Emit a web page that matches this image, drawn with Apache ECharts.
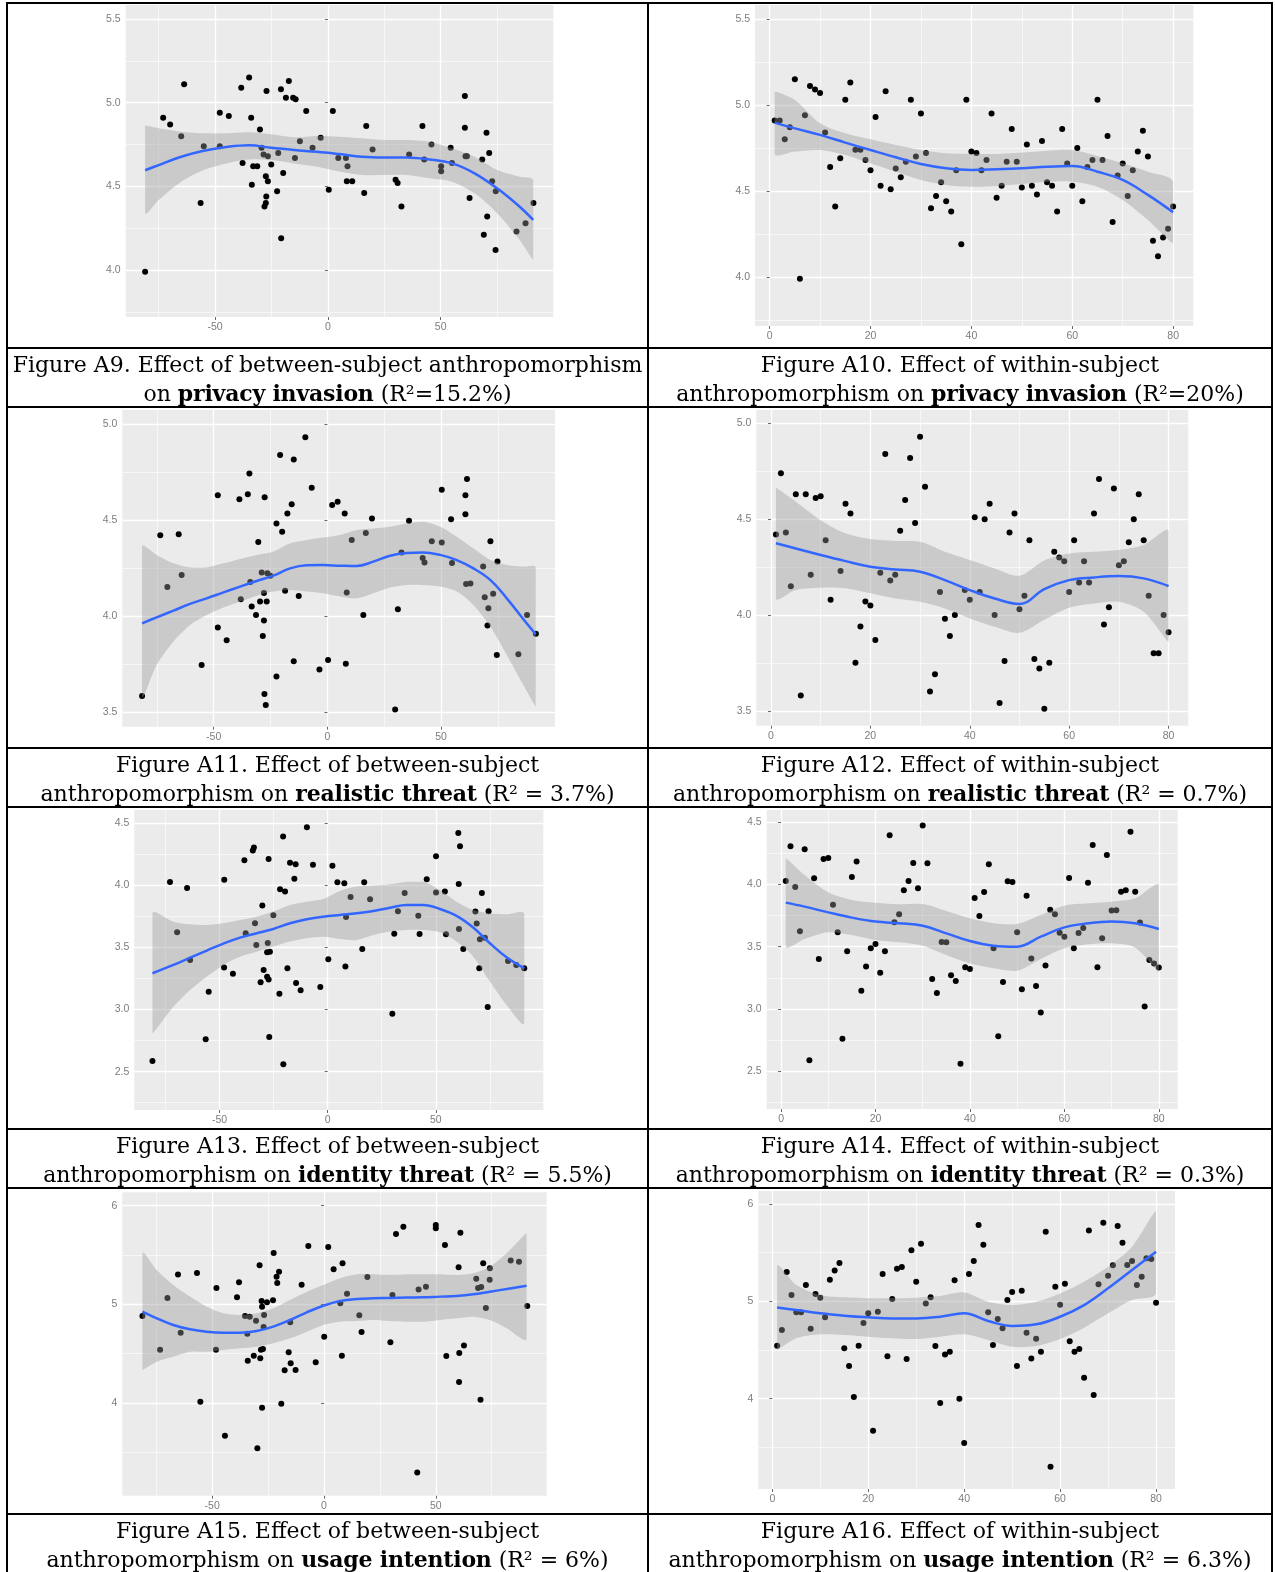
<!DOCTYPE html>
<html>
<head>
<meta charset="utf-8">
<script src="https://cdn.jsdelivr.net/npm/echarts@6/dist/echarts.min.js"></script>
<style>
body { margin: 0; background: #fff; }
#chart { position: absolute; left: 0; top: 0; width: 1275px; height: 1572px; }
.hl { position: absolute; left: 6px; width: 1267px; height: 2px; background: #000; }
.vl { position: absolute; top: 2px; width: 2px; height: 1570px; background: #000; }
.cap { position: absolute; text-align: center; font-family: "DejaVu Serif", serif; font-size: 22px;
       line-height: 28px; color: #000; white-space: nowrap; }
.cap b { letter-spacing: -0.2px; }
</style>
</head>
<body>
<div id="chart"></div>
<div id="frame"></div>
<script>
// tick values
const betweenTicks = [-50, 0, 50];
const betweenMinor = [-75, -25, 25, 75];
const withinTicks = [0, 20, 40, 60, 80];
const withinMinor = [10, 30, 50, 70];
const privacyTicks = [4, 4.5, 5, 5.5];
const privacyMinor = [3.75, 4.25, 4.75, 5.25];
const realisticTicks = [3.5, 4, 4.5, 5];
const realisticMinor = [3.75, 4.25, 4.75];
const identityTicks = [2.5, 3, 3.5, 4, 4.5];
const identityMinor = [2.25, 2.75, 3.25, 3.75, 4.25];
const usageTicks = [4, 5, 6];
const usageMinor = [3.5, 4.5, 5.5];

// points [x, y]; fits [x, fit, lower, upper]
const a9Points = [[-81,3.99],[-73,4.91],[-69.9,4.87],[-65,4.80],[-63.7,5.11],[-56.4,4.40],[-55,4.74],[-47.9,4.94],[-47.9,4.74],[-43.9,4.92],[-38.4,5.09],[-37.8,4.64],[-34.9,5.15],[-34,4.91],[-33.7,4.51],[-33.1,4.62],[-31.3,4.62],[-30.1,4.84],[-29.4,4.73],[-28.5,4.69],[-27.5,4.56],[-27.2,5.07],[-27.3,4.44],[-27.5,4.40],[-28.1,4.38],[-26.6,4.68],[-26.6,4.53],[-25.1,4.63],[-22.5,4.47],[-22,4.70],[-20.8,5.08],[-20.7,4.19],[-19.8,4.58],[-18.6,5.03],[-17.3,5.13],[-15.4,5.03],[-14.3,5.02],[-14.6,4.67],[-12.4,4.77],[-9.6,4.95],[-6.8,4.73],[-3.2,4.79],[0.4,4.48],[2.2,4.95],[4.6,4.67],[8,4.67],[8.4,4.53],[8.7,4.62],[10.8,4.53],[16.1,4.46],[17,4.86],[19.8,4.72],[30,4.54],[30.9,4.52],[32.6,4.38],[36,4.69],[41.9,4.86],[42.7,4.66],[45.9,4.75],[50.2,4.59],[50.2,4.62],[54.4,4.73],[55,4.64],[60.7,5.04],[60.7,4.85],[61,4.68],[61.6,4.68],[62.8,4.43],[68.4,4.66],[69.1,4.21],[70.3,4.82],[70.6,4.32],[71.5,4.70],[72.8,4.53],[74.4,4.47],[74.3,4.12],[83.6,4.23],[87.6,4.28],[91.1,4.40]];
const a9Fit = [[-81,4.596,4.339,4.863],[-75,4.627,4.418,4.847],[-65,4.677,4.528,4.827],[-55,4.713,4.598,4.817],[-45,4.735,4.637,4.817],[-35,4.745,4.661,4.823],[-25,4.731,4.657,4.811],[-15,4.717,4.637,4.793],[-5,4.707,4.618,4.801],[5,4.693,4.588,4.797],[15,4.677,4.568,4.787],[25,4.673,4.568,4.777],[35,4.673,4.568,4.777],[45,4.661,4.548,4.767],[55,4.637,4.528,4.727],[65,4.578,4.458,4.677],[75,4.488,4.339,4.598],[85,4.378,4.179,4.558],[91,4.299,4.060,4.538]];

const a10Points = [[1,4.91],[2,4.91],[3,4.80],[4,4.87],[5,5.15],[6,3.99],[7,4.94],[8,5.11],[9,5.09],[10,5.07],[11,4.84],[12,4.64],[13,4.41],[14,4.69],[15,5.03],[16,5.13],[17,4.74],[18,4.74],[19,4.68],[20,4.62],[21,4.93],[22,4.53],[23,5.08],[24,4.51],[25,4.63],[26,4.58],[27,4.67],[28,5.03],[29,4.70],[30,4.95],[31,4.72],[32,4.40],[33,4.47],[34,4.55],[35,4.44],[36,4.38],[37,4.62],[38,4.19],[39,5.03],[40,4.73],[41,4.72],[42,4.62],[43,4.68],[44,4.95],[45,4.46],[46,4.53],[47,4.67],[48,4.86],[49,4.67],[50,4.52],[51,4.77],[52,4.53],[53,4.48],[54,4.79],[55,4.55],[56,4.53],[57,4.38],[58,4.86],[59,4.66],[60,4.53],[61,4.75],[62,4.44],[63,4.64],[64,4.68],[65,5.03],[66,4.68],[67,4.82],[68,4.32],[69,4.59],[70,4.66],[71,4.47],[72,4.62],[73,4.73],[74,4.85],[75,4.70],[76,4.21],[77,4.12],[78,4.23],[79,4.28],[80,4.41]];
const a10Fit = [[1,4.897,4.715,5.078],[5,4.864,4.729,5.029],[10,4.826,4.738,4.893],[15,4.781,4.709,4.835],[20,4.738,4.661,4.80],[25,4.696,4.612,4.767],[30,4.657,4.564,4.738],[35,4.632,4.535,4.719],[40,4.622,4.525,4.715],[45,4.626,4.529,4.715],[50,4.632,4.541,4.723],[55,4.641,4.554,4.734],[60,4.645,4.554,4.738],[65,4.612,4.525,4.703],[70,4.564,4.448,4.661],[75,4.477,4.331,4.612],[80,4.376,4.196,4.554]];

const a11Points = [[-81.5,3.585],[-73.5,4.421],[-70.4,4.152],[-65.4,4.426],[-64.1,4.214],[-55.3,3.746],[-48.2,4.629],[-48.2,3.941],[-44.3,3.875],[-38.7,4.608],[-38.1,4.088],[-35,4.634],[-34.3,4.742],[-33.9,4.178],[-33.3,4.05],[-31.4,4.006],[-30.4,4.386],[-29.6,4.076],[-28.9,4.228],[-28.4,3.897],[-27.9,3.977],[-27.9,4.121],[-27.6,4.619],[-27.7,3.595],[-27.1,3.538],[-26.7,4.076],[-26.4,4.223],[-25.1,4.211],[-22.4,4.483],[-22.4,3.686],[-20.8,4.839],[-19.9,4.44],[-18.6,4.133],[-17.6,4.534],[-15.7,4.582],[-14.8,4.816],[-14.8,3.765],[-12.6,4.105],[-9.7,4.931],[-6.9,4.669],[-3.5,3.722],[0.3,3.772],[2.1,4.579],[4.5,4.596],[7.6,4.534],[8.1,3.752],[8.5,4.123],[10.7,4.397],[15.8,4.006],[16.9,4.433],[19.6,4.509],[29.8,3.514],[31,4.036],[32.6,4.332],[35.9,4.497],[41.9,4.303],[42.7,4.28],[45.9,4.39],[50.3,4.658],[50.3,4.384],[54.4,4.504],[54.8,4.277],[60.7,4.629],[60.7,4.53],[61.4,4.714],[61,4.168],[62.9,4.17],[68.5,4.258],[69.2,4.098],[70.4,3.951],[70.8,4.041],[71.7,4.39],[72.9,4.117],[74.5,3.798],[74.8,4.284],[84,3.802],[87.8,4.006],[91.7,3.909],[-20.8,3.42]];
const a11Fit = [[-81.5,3.963,3.582,4.362],[-75.1,3.994,3.746,4.319],[-67.7,4.029,3.868,4.275],[-60.4,4.064,3.954,4.254],[-53.1,4.093,4.006,4.254],[-45.7,4.124,4.045,4.275],[-38.4,4.154,4.076,4.298],[-31.1,4.183,4.107,4.319],[-23.8,4.211,4.128,4.336],[-16.4,4.249,4.136,4.379],[-9.1,4.265,4.128,4.397],[-1.8,4.266,4.119,4.409],[5.6,4.263,4.102,4.423],[12.9,4.261,4.093,4.449],[20.2,4.284,4.119,4.457],[27.6,4.315,4.149,4.466],[34.9,4.329,4.162,4.483],[42.2,4.332,4.162,4.492],[49.6,4.319,4.154,4.466],[56.9,4.292,4.128,4.414],[64.2,4.249,4.058,4.353],[71.6,4.189,3.946,4.293],[78.9,4.093,3.798,4.267],[86.2,3.984,3.642,4.258],[91.6,3.906,3.53,4.254]];

const a12Points = [[1,4.42],[2,4.74],[3,4.43],[4,4.15],[5,4.63],[6,3.58],[7,4.63],[8,4.21],[9,4.61],[10,4.62],[11,4.39],[12,4.08],[14,4.23],[15,4.58],[16,4.53],[17,3.75],[18,3.94],[19,4.07],[20,4.05],[21,3.87],[22,4.22],[23,4.84],[24,4.18],[25,4.21],[26,4.44],[27,4.60],[28,4.82],[29,4.48],[30,4.93],[31,4.67],[32,3.60],[33,3.69],[34,4.12],[35,3.98],[36,3.89],[37,4.00],[38,3.42],[39,4.13],[40,4.08],[41,4.51],[42,4.12],[43,4.50],[44,4.58],[45,4.00],[46,3.54],[47,3.76],[48,4.43],[49,4.53],[50,4.03],[51,4.10],[52,4.39],[53,3.77],[54,3.72],[55,3.51],[56,3.75],[57,4.33],[58,4.30],[59,4.28],[60,4.12],[61,4.39],[62,4.17],[63,4.28],[64,4.17],[65,4.53],[66,4.71],[67,3.95],[68,4.04],[69,4.66],[70,4.26],[71,4.28],[72,4.38],[73,4.50],[74,4.63],[75,4.39],[76,4.10],[77,3.80],[78,3.80],[79,4.00],[80,3.91]];
const a12Fit = [[1,4.374,4.086,4.664],[5,4.347,4.13,4.591],[10,4.313,4.142,4.495],[15,4.281,4.139,4.426],[20,4.252,4.113,4.396],[25,4.238,4.086,4.386],[30,4.226,4.069,4.382],[35,4.182,4.034,4.33],[40,4.13,3.982,4.287],[45,4.086,3.939,4.243],[50,4.057,3.907,4.205],[55,4.135,3.975,4.285],[60,4.182,4.038,4.321],[65,4.196,4.06,4.33],[70,4.203,4.069,4.339],[75,4.191,4.017,4.365],[80,4.151,3.86,4.438]];

const a13Points = [[-81,2.586],[-72.9,4.028],[-69.6,3.622],[-65,3.979],[-63.6,3.399],[-56.4,2.76],[-55,3.144],[-47.8,4.046],[-47.9,3.338],[-43.8,3.289],[-38.5,4.202],[-37.9,3.614],[-34.6,4.28],[-34.1,4.304],[-33.6,3.695],[-33,3.52],[-31,3.22],[-30.2,3.837],[-29.6,3.319],[-28,3.265],[-27.7,3.536],[-27.3,4.213],[-27.3,3.241],[-28,3.461],[-26.7,3.466],[-27,2.779],[-25.1,3.759],[-22.3,3.128],[-22,3.968],[-20.6,4.393],[-20.5,2.559],[-19.7,3.95],[-18.6,3.332],[-17.4,4.183],[-15.4,4.054],[-14.8,4.17],[-14.6,3.214],[-12.5,3.155],[-9.6,4.468],[-6.8,4.167],[-3.4,3.182],[0.3,3.405],[2.2,4.159],[4.5,4.025],[7.7,4.017],[8.2,3.346],[8.5,3.746],[10.6,3.907],[16,3.488],[16.9,4.025],[19.6,3.888],[29.9,2.967],[30.8,3.611],[32.5,3.791],[35.6,3.939],[41.9,3.756],[42.5,3.609],[45.8,4.049],[50.1,4.234],[50.1,3.942],[54.2,3.95],[54.7,3.606],[60.4,4.422],[61.2,4.315],[60.6,4.011],[60.7,3.649],[62.7,3.488],[68.3,3.789],[68.9,3.692],[70.1,3.332],[70.4,3.566],[71.3,3.939],[72.7,3.579],[74,3.021],[74.4,3.791],[83.4,3.391],[87.2,3.359],[90.9,3.332]];
const a13Fit = [[-81,3.292,2.809,3.775],[-71.3,3.359,3.023,3.708],[-63.6,3.418,3.158,3.687],[-55.9,3.475,3.265,3.681],[-48.2,3.531,3.359,3.695],[-40.5,3.579,3.426,3.721],[-32.8,3.614,3.466,3.748],[-25.1,3.649,3.507,3.789],[-17.4,3.695,3.547,3.842],[-9.7,3.727,3.574,3.869],[-2,3.748,3.587,3.891],[5.7,3.762,3.568,3.955],[13.4,3.775,3.56,3.99],[21.1,3.794,3.6,3.998],[28.8,3.82,3.628,4.009],[36.5,3.842,3.641,4.03],[44.2,3.842,3.641,4.03],[51.9,3.81,3.622,3.963],[59.6,3.754,3.547,3.869],[67.3,3.66,3.426,3.802],[75,3.534,3.225,3.775],[82.7,3.421,3.037,3.767],[90.9,3.332,2.889,3.77]];

const a14Points = [[1,4.027],[2,4.305],[3,3.979],[4,3.623],[5,4.281],[6,2.588],[7,4.048],[8,3.401],[9,4.203],[10,4.211],[11,3.837],[12,3.615],[13,2.762],[14,3.463],[15,4.059],[16,4.182],[17,3.147],[18,3.34],[19,3.487],[20,3.521],[21,3.291],[22,3.463],[23,4.393],[24,3.695],[25,3.759],[26,3.952],[27,4.027],[28,4.171],[29,3.968],[30,4.471],[31,4.168],[32,3.241],[33,3.128],[34,3.537],[35,3.535],[36,3.27],[37,3.225],[38,2.561],[39,3.334],[40,3.321],[41,3.89],[42,3.746],[43,3.939],[44,4.16],[45,3.487],[46,2.781],[47,3.217],[48,4.024],[49,4.019],[50,3.615],[51,3.158],[52,3.909],[53,3.406],[54,3.184],[55,2.971],[56,3.348],[57,3.797],[58,3.759],[59,3.612],[60,3.58],[61,4.051],[62,3.487],[63,3.61],[64,3.65],[65,4.013],[66,4.316],[67,3.334],[68,3.567],[69,4.235],[70,3.789],[71,3.791],[72,3.941],[73,3.952],[74,4.422],[75,3.941],[76,3.693],[77,3.021],[78,3.393],[79,3.364],[80,3.332]];
const a14Fit = [[1,3.853,3.5,4.209],[5,3.821,3.561,4.075],[10,3.775,3.615,3.936],[15,3.733,3.594,3.874],[20,3.701,3.553,3.853],[25,3.687,3.535,3.84],[30,3.668,3.508,3.842],[35,3.607,3.433,3.786],[40,3.545,3.366,3.727],[45,3.508,3.326,3.687],[50,3.5,3.307,3.682],[55,3.58,3.401,3.754],[60,3.655,3.487,3.829],[65,3.687,3.519,3.848],[70,3.701,3.527,3.861],[75,3.687,3.492,3.888],[80,3.642,3.299,3.995]];

const a15Points = [[-81.2,4.882],[-73.3,4.541],[-70,5.064],[-65.3,5.301],[-64.1,4.713],[-56.8,5.318],[-55.3,4.014],[-48.1,5.166],[-48.3,4.541],[-44.3,3.669],[-38.9,5.071],[-38,5.223],[-35.3,4.882],[-34.1,4.429],[-34.3,4.703],[-33.2,4.875],[-31.4,4.48],[-30.4,4.834],[-29.8,3.541],[-28.8,5.395],[-28.5,4.453],[-28.2,4.541],[-27.9,5.034],[-27.7,4.976],[-27.7,3.953],[-27.3,4.547],[-27,4.77],[-26.8,4.892],[-25.5,5.02],[-22.8,5.041],[-22.5,5.52],[-21.2,5.28],[-20.9,5.216],[-20.1,5.331],[-19.1,3.993],[-17.6,4.331],[-15.8,4.514],[-15.1,4.818],[-14.9,4.402],[-12.7,4.334],[-10,5.199],[-7,5.591],[-3.7,4.412],[0.1,4.672],[1.9,5.581],[4.3,5.355],[7.3,5.01],[8,4.48],[8.3,5.416],[10.3,5.108],[15.8,4.889],[16.8,4.72],[19.4,5.277],[29.7,4.615],[30.6,5.095],[32.2,5.713],[35.5,5.787],[41.7,3.297],[42.3,5.149],[45.6,5.179],[50,5.804],[50,5.77],[54.1,5.601],[54.7,4.476],[60.2,5.375],[60.5,4.507],[60.4,4.213],[61,5.726],[62.6,4.584],[68.1,5.26],[68.9,5.166],[70,4.034],[70.3,5.176],[71.2,5.416],[72.4,4.963],[74.1,5.25],[74.2,5.365],[83.5,5.443],[87.2,5.432],[90.9,4.983]];
const a15Fit = [[-81.2,4.926,4.334,5.517],[-74.8,4.858,4.419,5.348],[-67.4,4.791,4.47,5.196],[-59.9,4.747,4.52,5.078],[-52.5,4.723,4.52,4.976],[-45,4.713,4.537,4.909],[-37.6,4.713,4.554,4.892],[-30.1,4.73,4.571,4.909],[-22.7,4.774,4.605,4.959],[-15.2,4.841,4.655,5.044],[-7.7,4.919,4.723,5.128],[-0.3,4.986,4.791,5.196],[7.2,5.034,4.824,5.264],[14.6,5.054,4.831,5.304],[22.1,5.061,4.841,5.304],[29.5,5.064,4.831,5.297],[37,5.068,4.824,5.304],[44.4,5.071,4.824,5.304],[51.9,5.078,4.841,5.304],[59.3,5.084,4.858,5.297],[66.8,5.101,4.875,5.314],[74.2,5.128,4.841,5.382],[81.7,5.155,4.757,5.517],[90.6,5.189,4.649,5.72]];

const a16Points = [[1,4.545],[2,4.705],[3,5.301],[4,5.065],[5,4.887],[6,4.887],[7,5.168],[8,4.719],[9,5.075],[10,5.038],[11,4.836],[12,5.223],[13,5.318],[14,5.394],[15,4.517],[16,4.336],[17,4.017],[18,4.545],[19,4.777],[20,4.877],[21,3.671],[22,4.894],[23,5.281],[24,4.435],[25,5.024],[26,5.336],[27,5.353],[28,4.408],[29,5.524],[30,5.202],[31,5.592],[32,4.979],[33,5.041],[34,4.541],[35,3.955],[36,4.455],[37,4.483],[38,5.216],[39,4.0],[40,3.545],[41,5.281],[42,5.414],[43,5.784],[44,5.582],[45,4.887],[46,4.551],[47,4.818],[48,4.723],[49,5.014],[50,5.096],[51,4.336],[52,5.11],[53,4.678],[54,4.414],[55,4.616],[56,4.483],[57,5.716],[58,3.301],[59,5.151],[60,4.966],[61,5.182],[62,4.589],[63,4.483],[64,4.51],[65,4.216],[66,5.729],[67,4.038],[68,5.175],[69,5.808],[70,5.264],[71,5.37],[72,5.774],[73,5.603],[74,5.373],[75,5.414],[76,5.168],[77,5.253],[78,5.442],[79,5.435],[80,4.986]];
const a16Fit = [[1,4.938,4.5,5.363],[5,4.911,4.62,5.168],[10,4.877,4.661,5.065],[15,4.853,4.654,5.041],[20,4.836,4.637,5.031],[25,4.825,4.62,5.031],[30,4.825,4.613,5.038],[35,4.842,4.637,5.055],[40,4.877,4.661,5.092],[45,4.798,4.603,4.997],[50,4.747,4.534,4.962],[55,4.764,4.541,4.997],[60,4.842,4.613,5.082],[65,4.962,4.729,5.202],[70,5.134,4.877,5.356],[75,5.322,5.014,5.562],[80,5.51,5.082,5.928]];

// caption text: [first line, lead-in, bold outcome, R²]
const captions = [
  ['Figure A9. Effect of between-subject anthropomorphism', 'on ', 'privacy invasion', ' (R²=15.2%)'],
  ['Figure A10. Effect of within-subject', 'anthropomorphism on ', 'privacy invasion', ' (R²=20%)'],
  ['Figure A11. Effect of between-subject', 'anthropomorphism on ', 'realistic threat', ' (R² = 3.7%)'],
  ['Figure A12. Effect of within-subject', 'anthropomorphism on ', 'realistic threat', ' (R² = 0.7%)'],
  ['Figure A13. Effect of between-subject', 'anthropomorphism on ', 'identity threat', ' (R² = 5.5%)'],
  ['Figure A14. Effect of within-subject', 'anthropomorphism on ', 'identity threat', ' (R² = 0.3%)'],
  ['Figure A15. Effect of between-subject', 'anthropomorphism on ', 'usage intention', ' (R² = 6%)'],
  ['Figure A16. Effect of within-subject', 'anthropomorphism on ', 'usage intention', ' (R² = 6.3%)']
];

// table frame + captions
const frame = document.getElementById('frame');
[2, 347, 406, 747, 806, 1128, 1187, 1513].forEach(y => {
  const d = document.createElement('div');
  d.className = 'hl'; d.style.top = y + 'px';
  frame.appendChild(d);
});
[6, 647, 1271].forEach(x => {
  const d = document.createElement('div');
  d.className = 'vl'; d.style.left = x + 'px';
  frame.appendChild(d);
});
const capRows = [347, 747, 1128, 1513];
captions.forEach((c, i) => {
  const d = document.createElement('div');
  d.className = 'cap';
  const right = i % 2 === 1;
  d.style.left = (right ? 649 : 8) + 'px';
  d.style.width = (right ? 622 : 639) + 'px';
  d.style.top = (capRows[Math.floor(i / 2)] + 4) + 'px';
  d.innerHTML = c[0] + '<br>' + c[1] + '<b>' + c[2] + '</b>' + c[3];
  frame.appendChild(d);
});

// panel layout: [left, top, width, height] in page pixels
const panels = [
  { pts: a9Points, fit: a9Fit, box: [125.7, 5, 427.6, 312], x: [-89.6, 99.9], y: [3.719, 5.584],
    xt: betweenTicks, xm: betweenMinor, yt: privacyTicks, ym: privacyMinor, dec: 1 },
  { pts: a10Points, fit: a10Fit, box: [755, 5, 438.3, 321], x: [-2.9, 84], y: [3.715, 5.581],
    xt: withinTicks, xm: withinMinor, yt: privacyTicks, ym: privacyMinor, dec: 1 },
  { pts: a11Points, fit: a11Fit, box: [122.3, 410, 432.7, 316.7], x: [-90.2, 100.1], y: [3.425, 5.073],
    xt: betweenTicks, xm: betweenMinor, yt: realisticTicks, ym: realisticMinor, dec: 1 },
  { pts: a12Points, fit: a12Fit, box: [756.3, 410, 432, 315.7], x: [-2.95, 83.97], y: [3.422, 5.07],
    xt: withinTicks, xm: withinMinor, yt: realisticTicks, ym: realisticMinor, dec: 1 },
  { pts: a13Points, fit: a13Fit, box: [134.3, 810, 409, 300], x: [-89.4, 99.7], y: [2.191, 4.607],
    xt: betweenTicks, xm: betweenMinor, yt: identityTicks, ym: identityMinor, dec: 1 },
  { pts: a14Points, fit: a14Fit, box: [766.7, 810, 411, 299], x: [-3.04, 84], y: [2.198, 4.596],
    xt: withinTicks, xm: withinMinor, yt: identityTicks, ym: identityMinor, dec: 1 },
  { pts: a15Points, fit: a15Fit, box: [122.3, 1192.3, 424.4, 303.4], x: [-90.2, 99.6], y: [3.061, 6.135],
    xt: betweenTicks, xm: betweenMinor, yt: usageTicks, ym: usageMinor, dec: 0 },
  { pts: a16Points, fit: a16Fit, box: [758.3, 1191, 416.7, 298], x: [-2.92, 83.95], y: [3.072, 6.134],
    xt: withinTicks, xm: withinMinor, yt: usageTicks, ym: usageMinor, dec: 0 }
];

const labelStyle = { color: '#7d7d7d', fontSize: 10.5, fontFamily: 'Liberation Sans, Arial, sans-serif' };
const tickStyle = { show: true, length: 3, lineStyle: { color: '#6a6a6a', width: 1 } };

const grid = [], xAxis = [], yAxis = [], series = [];
panels.forEach((p, i) => {
  grid.push({ left: p.box[0], top: p.box[1], width: p.box[2], height: p.box[3],
    show: true, backgroundColor: '#EBEBEB', borderWidth: 0, containLabel: false, outerBoundsMode: 'none' });
  xAxis.push({ gridIndex: i, type: 'value', min: p.x[0], max: p.x[1],
    axisLine: { show: false }, splitLine: { show: false },
    axisTick: Object.assign({ customValues: p.xt }, tickStyle),
    axisLabel: Object.assign({ customValues: p.xt, margin: 5 }, labelStyle) });
  yAxis.push({ gridIndex: i, type: 'value', min: p.y[0], max: p.y[1],
    axisLine: { show: false }, splitLine: { show: false },
    axisTick: Object.assign({ customValues: p.yt }, tickStyle),
    axisLabel: Object.assign({ customValues: p.yt, margin: 5, formatter: v => v.toFixed(p.dec) }, labelStyle) });

  // background grid lines, kept under the points
  const major = { color: '#ffffff', width: 1.3, type: 'solid' };
  const minor = { color: '#ffffff', width: 0.6, type: 'solid' };
  const lines = []
    .concat(p.xm.map(v => ({ xAxis: v, lineStyle: minor })))
    .concat(p.ym.map(v => ({ yAxis: v, lineStyle: minor })))
    .concat(p.xt.map(v => ({ xAxis: v, lineStyle: major })))
    .concat(p.yt.map(v => ({ yAxis: v, lineStyle: major })));
  series.push({ type: 'line', xAxisIndex: i, yAxisIndex: i, data: [], z: 0, silent: true,
    markLine: { z: 0, silent: true, symbol: ['none', 'none'], label: { show: false }, animation: false,
      emphasis: { disabled: true }, data: lines } });

  series.push({ type: 'scatter', xAxisIndex: i, yAxisIndex: i, data: p.pts, symbolSize: 6,
    itemStyle: { color: '#000', opacity: 1 }, z: 2, silent: true });

  // confidence band: upper edge forward, lower edge back, as one polygon
  series.push({ type: 'custom', xAxisIndex: i, yAxisIndex: i, data: p.fit, z: 3, silent: true, clip: true,
    encode: { x: 0, y: 1 },
    renderItem: (params, api) => {
      if (params.dataIndex !== 0) return null;
      const upper = p.fit.map(r => api.coord([r[0], r[3]]));
      const lower = p.fit.map(r => api.coord([r[0], r[2]])).reverse();
      const pts = upper.concat(lower);
      const lo = [Math.min(...pts.map(q => q[0])), Math.min(...pts.map(q => q[1]))];
      const hi = [Math.max(...pts.map(q => q[0])), Math.max(...pts.map(q => q[1]))];
      return { type: 'polygon', shape: { points: pts, smooth: 0.3, smoothConstraint: [lo, hi] },
        style: { fill: 'rgba(153,153,153,0.4)' } };
    } });

  series.push({ type: 'line', xAxisIndex: i, yAxisIndex: i, smooth: 0.4,
    data: p.fit.map(r => [r[0], r[1]]), symbol: 'none',
    lineStyle: { color: '#3366FF', width: 2.5 }, z: 4, silent: true });
});

const chart = echarts.init(document.getElementById('chart'), null, { renderer: 'canvas' });
chart.setOption({ animation: false, backgroundColor: '#fff', grid, xAxis, yAxis, series });
</script>
</body>
</html>
